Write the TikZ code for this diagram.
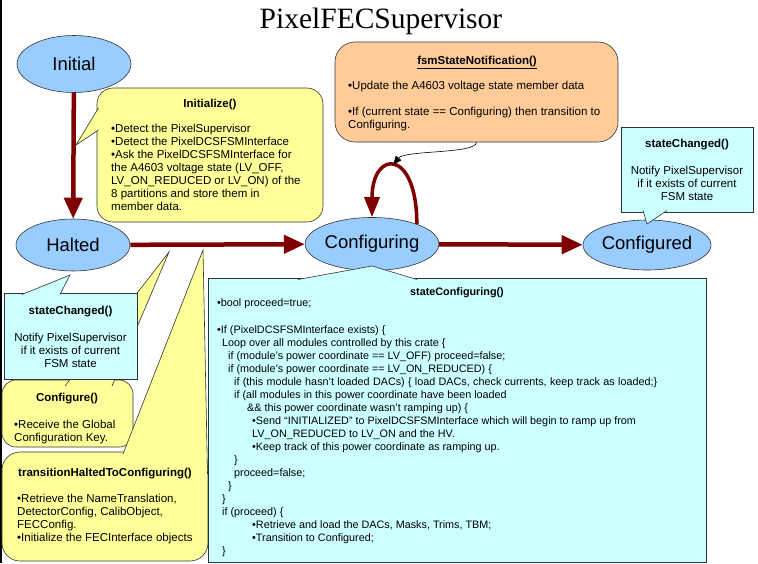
\documentclass[tikz,border=0pt]{standalone}
\usepackage{fontspec}
\setmainfont{Liberation Sans}
\newfontfamily\titlefont{Liberation Serif}
\usepackage{tikz}
\usetikzlibrary{shapes.geometric,arrows.meta}

\definecolor{statefill}{HTML}{99CCFF}
\definecolor{noteyellow}{HTML}{FFFF99}
\definecolor{noteorange}{HTML}{FFCC99}
\definecolor{notecyan}{HTML}{CCFFFF}
\definecolor{transred}{HTML}{800000}

\tikzset{
  fsmstate/.style={ellipse, draw=black!80, line width=0.6pt, fill=statefill,
    minimum width=114pt, minimum height=53pt, inner sep=0pt,
    font=\fontsize{18.5}{22}\selectfont},
  transarrow/.style={draw=transred, line width=4.5pt, -{Triangle[length=21pt,width=18pt]}},
  selfloop/.style={draw=transred, line width=3.5pt, -{Triangle[length=20pt,width=15pt]}},
  notify/.style={draw=black, line width=0.6pt, -{Triangle[length=9pt,width=7pt]}},
  noteline/.style={draw=black!80, line width=0.6pt},
  notebox/.style={noteline, inner sep=0pt},
  yellownote/.style={notebox, fill=noteyellow, rounded corners=16pt},
  orangenote/.style={notebox, fill=noteorange, rounded corners=20pt},
  cyannote/.style={notebox, fill=notecyan},
  notetitle/.style={font=\fontsize{11.5}{13}\selectfont\bfseries, inner sep=0pt},
  notebody/.style={font=\fontsize{11.5}{13}\selectfont, align=left, inner sep=0pt},
  notetext/.style={font=\fontsize{11.5}{13}\selectfont, align=center, inner sep=0pt},
  codebody/.style={font=\fontsize{10.8}{13}\selectfont, align=left, inner sep=0pt}
}

\begin{document}
\begin{tikzpicture}[x=1pt,y=-1pt]
\useasboundingbox (0,0) rectangle (758,563);

% ---- Frame and title ----
\draw[line width=2pt] (1,0) -- (1,563);
\node[anchor=base, inner sep=0pt, font=\titlefont\fontsize{29.5}{34}\selectfont] (title) at (381,28) {PixelFECSupervisor};

% ---- States ----
\node[fsmstate, minimum height=57pt] (initial) at (74,64) {Initial};
\node[fsmstate, minimum height=52pt] (halted) at (73,245) {Halted};
\node[fsmstate] (configuring) at (372,244) {Configuring};
\node[fsmstate, minimum height=50pt] (configured) at (647,245) {Configured};

% ---- Transitions ----
\draw[transarrow] (initial) -- (halted);
\draw[transarrow] (halted) -- (configuring);
\draw[transarrow] (configuring) -- (configured);
\draw[selfloop] (configuring.24) .. controls +(0,-76) and +(0,-68) .. (configuring.north);
\coordinate (looptop) at (393,165);   % top of the loop

% ---- Initialize() ----
\node[yellownote, minimum width=226pt, minimum height=134pt] (initbox) at (210,155) {};
\coordinate (inittip) at (76,145);
\draw[noteline, fill=noteyellow] (98.5,108) -- (inittip) -- (98.5,130);
\node[notetitle, anchor=base] (inittitle) at (210,107) {Initialize()};
\node[notebody, anchor=north west] (initbody) at (111,123.7) {•Detect the PixelSupervisor\\
  •Detect the PixelDCSFSMInterface\\
  •Ask the PixelDCSFSMInterface for\\
  the A4603 voltage state (LV\_OFF,\\
  LV\_ON\_REDUCED or LV\_ON) of the\\
  8 partitions and store them in\\
  member data.};

% ---- fsmStateNotification() ----
\node[orangenote, minimum width=283pt, minimum height=100pt] (fsmbox) at (476.5,92) {};
\node[notetitle, anchor=base] (fsmtitle) at (477,64) {\underline{fsmStateNotification()}};
\node[notebody, anchor=north west] (fsmbody) at (348,80.7) {•Update the A4603 voltage state member data\\[13pt]
  •If (current state == Configuring) then transition to\\
  Configuring.};
\draw[notify] (fsmbox.south) .. controls (476,154) and (405,150) .. (looptop);

% ---- stateChanged() at Configured ----
\node[cyannote, minimum width=132pt, minimum height=85pt] (chgrightbox) at (687,169.5) {};
\coordinate (chgrighttip) at (647,224);
\draw[noteline, fill=notecyan] (643,210.5) -- (chgrighttip) -- (667,210.5);
\node[notetext, anchor=north] (chgrighttext) at (687,138.7) {\textbf{stateChanged()}\\[14pt]
  Notify PixelSupervisor\\if it exists of current\\FSM state};

% ---- Configure() ----
\node[yellownote, rounded corners=14pt, minimum width=131pt, minimum height=67pt] (confbox) at (67.5,413.5) {};
\coordinate (conftip) at (169,252);
\draw[noteline, fill=noteyellow] (65,386) -- (conftip) -- (112,386);
\node[notetitle, anchor=base] (conftitle) at (67,401) {Configure()};
\node[notebody, anchor=north west] (confbody) at (14,419.7) {•Receive the Global\\Configuration Key.};

% ---- transitionHaltedToConfiguring() ----
\node[yellownote, rounded corners=18pt, minimum width=206pt, minimum height=109pt] (transbox) at (105,506.5) {};
\coordinate (transtip) at (203,250);
\draw[noteline, fill=noteyellow] (123,454) -- (transtip) -- (207.5,474);
\node[notetitle, anchor=base] (transtitle) at (105,476) {transitionHaltedToConfiguring()};
\node[notebody, anchor=north west] (transbody) at (17,493.7) {•Retrieve the NameTranslation,\\
  DetectorConfig, CalibObject,\\
  FECConfig.\\
  •Initialize the FECInterface objects};

% ---- stateChanged() at Halted ----
\node[cyannote, minimum width=133pt, minimum height=86pt] (chgleftbox) at (70.5,336) {};
\coordinate (chglefttip) at (70,275);
\draw[noteline, fill=notecyan] (22,294.5) -- (chglefttip) -- (60,294.5);
\node[notetext, anchor=north] (chglefttext) at (70.5,305.7) {\textbf{stateChanged()}\\[14pt]
  Notify PixelSupervisor\\if it exists of current\\FSM state};

% ---- stateConfiguring() ----
\node[cyannote, minimum width=498pt, minimum height=284pt] (cfgbox) at (457,420) {};
\coordinate (cfgtip) at (372,266);
\draw[noteline, fill=notecyan] (298,279.5) -- (cfgtip) -- (417,279.5);
\node[codebody, font=\fontsize{10.8}{13}\selectfont\bfseries, anchor=base] (cfgtitle) at (457,295) {stateConfiguring()};
\node[codebody, anchor=north west] (cfgbody) at (217,298.8) {•bool proceed=true;\\[14pt]
  •If (PixelDCSFSMInterface exists) \{\\
  \hspace*{5pt}Loop over all modules controlled by this crate \{\\
  \hspace*{11pt}if (module's power coordinate == LV\_OFF) proceed=false;\\
  \hspace*{11pt}if (module's power coordinate == LV\_ON\_REDUCED) \{\\
  \hspace*{17pt}\makebox[423pt][s]{if (this module hasn't loaded DACs) \{ load DACs, check currents, keep track as loaded;\}}\\
  \hspace*{17pt}if (all modules in this power coordinate have been loaded\\
  \hspace*{30pt}\&\& this power coordinate wasn't ramping up) \{\\
  \hspace*{35pt}•Send “INITIALIZED” to PixelDCSFSMInterface which will begin to ramp up from\\
  \hspace*{35pt}LV\_ON\_REDUCED to LV\_ON and the HV.\\
  \hspace*{35pt}•Keep track of this power coordinate as ramping up.\\
  \hspace*{17pt}\}\\
  \hspace*{17pt}proceed=false;\\
  \hspace*{11pt}\}\\
  \hspace*{5pt}\}\\
  \hspace*{5pt}if (proceed) \{\\
  \hspace*{35pt}•Retrieve and load the DACs, Masks, Trims, TBM;\\
  \hspace*{35pt}•Transition to Configured;\\
  \hspace*{5pt}\}};

\end{tikzpicture}
\end{document}
